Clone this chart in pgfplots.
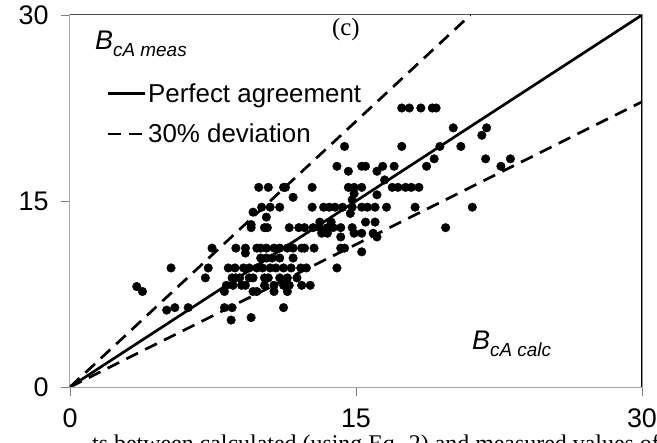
\documentclass[border=0pt]{standalone}
\usepackage{pgfplots}
\pgfplotsset{compat=1.18}
\usepackage{fontspec}
\setmainfont{Liberation Serif}
\newfontfamily\arial{Liberation Sans}

\pgfplotstableread{
x y
17.4 22.5
17.8 22.5
18.4 22.5
19.0 22.5
19.2 22.5
20.1 20.9
21.85 20.9
21.6 20.3
14.4 19.4
17.4 19.4
19.4 19.4
20.5 19.4
19.1 18.4
21.8 18.4
23.1 18.4
14.0 17.8
15.3 17.8
15.5 17.8
16.4 17.8
17.0 17.8
18.7 17.8
22.6 17.8
14.6 17.4
16.1 17.4
16.5 16.7
9.9 16.1
10.4 16.1
11.2 16.1
11.3 16.1
12.7 16.1
14.6 16.1
14.9 16.1
15.3 16.1
16.9 16.1
17.2 16.1
17.6 16.1
17.9 16.1
18.3 16.1
14.9 15.6
16.1 15.5
11.7 15.3
14.8 15.1
10.05 14.5
10.5 14.5
11.0 14.5
12.7 14.5
13.3 14.5
13.6 14.5
13.9 14.5
14.3 14.5
14.8 14.5
15.3 14.5
15.6 14.5
16.0 14.5
16.6 14.5
18.1 14.5
21.1 14.5
9.6 14.1
14.7 14.0
10.3 13.7
13.1 13.3
13.7 13.3
15.5 13.3
16.0 13.3
9.5 13.1
9.5 12.85
10.2 12.85
10.35 12.85
11.5 12.85
12.0 12.85
12.3 12.85
12.75 12.85
13.1 12.85
13.5 12.85
13.8 12.85
14.2 12.85
14.8 12.85
19.7 12.85
13.2 12.4
13.5 12.4
14.9 12.4
15.3 12.4
15.9 12.4
14.2 12.1
16.1 12.1
7.45 11.2
8.7 11.2
9.2 11.2
9.8 11.2
10.0 11.2
10.3 11.2
10.7 11.2
11.0 11.2
11.4 11.2
11.7 11.2
12.15 11.2
12.3 11.2
12.8 11.2
14.2 11.2
14.4 11.2
9.2 10.8
15.3 10.9
10.0 10.4
10.3 10.4
10.6 10.4
11.0 10.4
11.7 10.4
5.3 9.6
7.25 9.6
8.3 9.6
8.65 9.6
9.1 9.6
9.4 9.6
9.8 9.6
10.1 9.6
10.5 9.6
10.8 9.6
11.2 9.6
11.6 9.6
12.1 9.6
12.4 9.6
14.0 9.6
7.1 8.8
8.5 8.8
8.7 8.8
8.9 8.8
9.4 8.8
9.6 8.8
10.2 8.8
10.4 8.8
11.0 8.8
11.4 8.8
11.9 8.8
8.2 8.2
8.55 8.2
9.0 8.2
9.2 8.2
10.2 8.2
10.7 8.2
11.2 8.2
11.5 8.2
12.15 8.2
12.6 8.2
3.5 8.1
3.8 7.7
8.1 7.7
9.6 7.7
9.8 7.7
10.7 7.7
11.4 7.7
5.07 6.2
5.5 6.4
6.2 6.4
8.1 6.4
8.5 6.4
11.2 6.4
8.45 5.4
9.5 5.6
}\pts

\begin{document}
\begin{tikzpicture}[x=1bp,y=1bp]
\begin{axis}[
  scale only axis, width=572bp, height=372bp,
  xmin=0, xmax=30, ymin=0, ymax=30,
  xtick={0,15,30}, ytick={0,15,30},
  xtick pos=bottom, ytick pos=left,
  tick align=outside, major tick length=9bp,
  tick style={gray, line width=0.8bp},
  axis line style={gray!70, line width=1bp},
  ticklabel style={font=\arial\fontsize{27}{27}\selectfont},
  /pgf/number format/assume math mode=true,
  xticklabel style={yshift=-9bp, text height=19bp, text depth=0bp},
  yticklabel style={xshift=-9bp},
  legend cell align=left,
  legend style={at={(axis cs:1.9,24.64)}, anchor=north west, draw=none, fill=none,
    font=\arial\fontsize{26}{26}\selectfont, row sep=16bp, inner sep=0pt,
    nodes={inner sep=2bp}},
  legend image code/.code={\draw[#1] (0bp,0bp) -- (37bp,0bp);},
]
\addplot[black, line width=2.7bp] coordinates {(0,0) (30,30)};
\addlegendentry{Perfect agreement}
\addplot[black, line width=2.7bp, dash pattern=on 13bp off 8bp] coordinates {(0,0) (21,30)};
\addlegendentry{30\% deviation}
\addplot[black, line width=2.7bp, dash pattern=on 13bp off 8bp, forget plot] coordinates {(0,0) (30,23)};
\addplot[only marks, mark=*, mark size=4.3bp, black, forget plot] table[x=x,y=y] {\pts};
\draw[gray!60!black, line width=1bp] (rel axis cs:0,1) -- (rel axis cs:1,1);
\draw[black, line width=1.2bp] (rel axis cs:1,1) -- (rel axis cs:1,0);
\node[anchor=base west, inner sep=0pt, font=\arial\fontsize{27}{27}\selectfont\itshape]
  at (axis cs:1.31,27.18) {B\raisebox{-7bp}{\fontsize{19}{19}\selectfont cA meas}};
\node[anchor=base west, inner sep=0pt, font=\arial\fontsize{27}{27}\selectfont\itshape]
  at (axis cs:21.08,3.06) {B\raisebox{-7bp}{\fontsize{19}{19}\selectfont cA calc}};
\node[anchor=center, inner sep=0pt, font=\fontsize{25}{25}\selectfont]
  at (axis cs:14.47,28.79) {(c)};
\end{axis}
\node[anchor=base east, inner sep=0pt, text height=16bp, text depth=4bp,
  font=\fontsize{24}{24}\selectfont] at (590bp,-64bp)
  {ts between calculated (using Eq. 2) and measured values of};
\pgfresetboundingbox
\useasboundingbox (-70bp,-56bp) rectangle (587bp,387bp);
\end{tikzpicture}
\end{document}
